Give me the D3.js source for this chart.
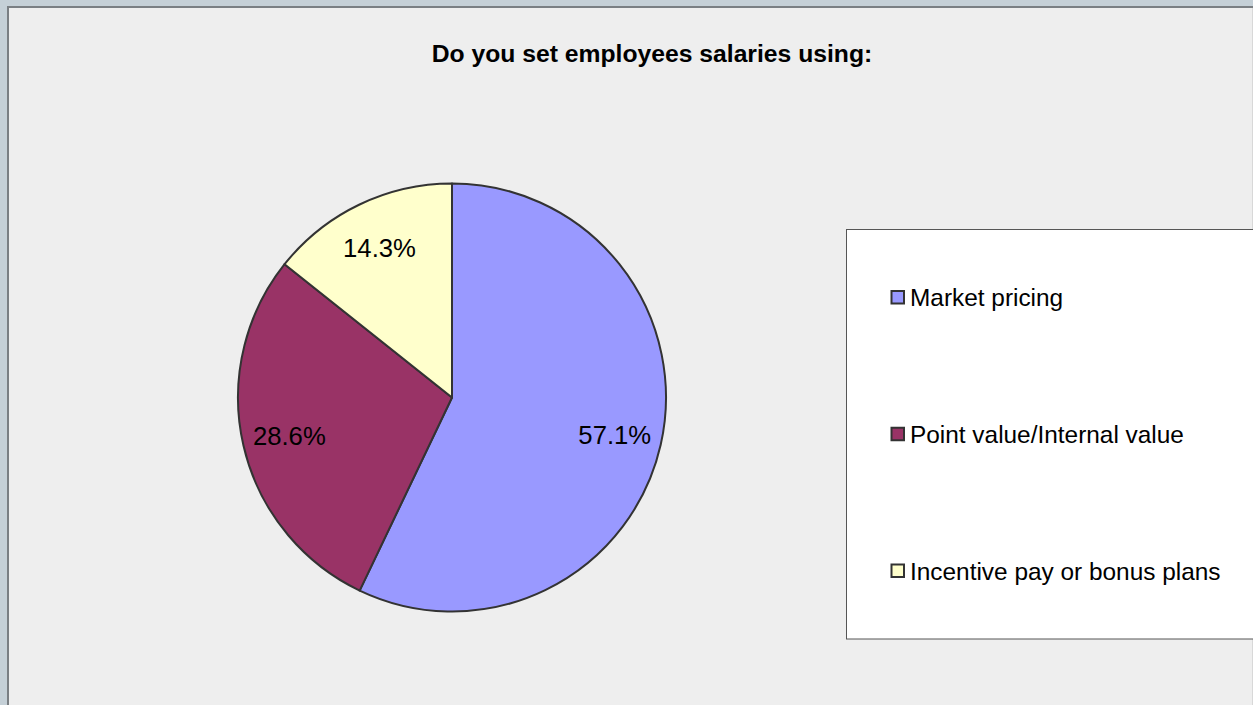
<!DOCTYPE html>
<html>
<head>
<meta charset="utf-8">
<script src="https://cdn.jsdelivr.net/npm/d3@7"></script>
<style>
  html, body { margin: 0; padding: 0; background: #c5d0d7; }
  svg { display: block; }
</style>
</head>
<body>
<svg id="chart" width="1253" height="705"></svg>
<script>
const title = "Do you set employees salaries using:";
const categories = ["Market pricing", "Point value/Internal value", "Incentive pay or bonus plans"];
const values = [57.1, 28.6, 14.3];
const colors = ["#9999ff", "#993366", "#ffffcc"];

const svg = d3.select("#chart");
const W = 1253, H = 705;

// outer background
svg.append("rect").attr("x", 0).attr("y", 0).attr("width", W).attr("height", H).attr("fill", "#c5d0d7");
// chart area
svg.append("rect").attr("x", 8).attr("y", 7).attr("width", W - 9).attr("height", H - 7).attr("fill", "#eeeeee");
svg.append("path").attr("d", `M8,${H} V7 H${W}`).attr("fill", "none").attr("stroke", "#7a7f83").attr("stroke-width", 2);
svg.append("line").attr("x1", W - 0.5).attr("x2", W - 0.5).attr("y1", 8).attr("y2", H).attr("stroke", "#d8d8d8").attr("stroke-width", 1);

// title
svg.append("text")
  .attr("x", 652).attr("y", 62)
  .attr("text-anchor", "middle")
  .attr("font-family", "Liberation Sans, Arial, sans-serif")
  .attr("font-weight", "bold")
  .attr("font-size", 24.7)
  .attr("fill", "#000")
  .text(title);

// pie
const cx = 452, cy = 397.5, R = 214;
const color = d3.scaleOrdinal().domain(categories).range(colors);
const pie = d3.pie().sort(null).value(d => d.value);
const data = categories.map((c, i) => ({ name: c, value: values[i] }));
const arcs = pie(data);
const arc = d3.arc().innerRadius(0).outerRadius(R);
const labelArc = d3.arc().innerRadius(R * 0.78).outerRadius(R * 0.78);

const g = svg.append("g").attr("transform", `translate(${cx},${cy})`);
g.selectAll("path.slice").data(arcs).join("path")
  .attr("class", "slice")
  .attr("d", arc)
  .attr("fill", d => color(d.data.name))
  .attr("stroke", "#333333")
  .attr("stroke-width", 2)
  .attr("stroke-linejoin", "round");

g.selectAll("text.lbl").data(arcs).join("text")
  .attr("class", "lbl")
  .attr("transform", d => `translate(${labelArc.centroid(d)})`)
  .attr("text-anchor", "middle")
  .attr("dy", "0.38em")
  .attr("font-family", "Liberation Sans, Arial, sans-serif")
  .attr("font-size", 25.7)
  .attr("fill", "#000")
  .text(d => d.data.value.toFixed(1) + "%");

// legend
const lx = 846, ly = 229.5, lw = W - lx + 5, lh = 409.5;
svg.append("rect").attr("x", lx + 0.5).attr("y", ly).attr("width", lw).attr("height", lh)
  .attr("fill", "#ffffff").attr("stroke", "#555555").attr("stroke-width", 1);

const legendY = d3.scalePoint().domain(categories).range([306, 579.5]);
const lg = svg.append("g");
const items = lg.selectAll("g.item").data(categories).join("g")
  .attr("class", "item")
  .attr("transform", d => `translate(0,${legendY(d)})`);
items.append("rect")
  .attr("x", 891.5).attr("y", -15).attr("width", 12.5).attr("height", 12.5)
  .attr("fill", d => color(d))
  .attr("stroke", "#333333").attr("stroke-width", 2);
items.append("text")
  .attr("x", 910).attr("y", 0)
  .attr("font-family", "Liberation Sans, Arial, sans-serif")
  .attr("font-size", 24.4)
  .attr("fill", "#000")
  .text(d => d);
</script>
</body>
</html>
